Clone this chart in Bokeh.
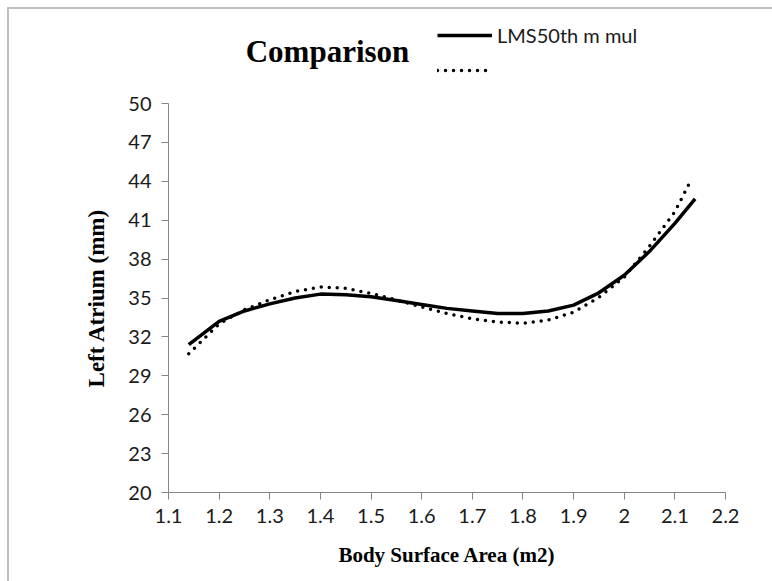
from bokeh.plotting import figure
from bokeh.models import Range1d, FixedTicker, Legend, LegendItem, Label
from bokeh.layouts import column
from bokeh.embed import file_html
from bokeh.resources import INLINE

# ---- data ----
x_solid = [1.14, 1.20, 1.25, 1.30, 1.35, 1.40, 1.45, 1.50, 1.55, 1.60, 1.65,
           1.70, 1.75, 1.80, 1.85, 1.90, 1.95, 2.00, 2.05, 2.10, 2.14]
y_solid = [31.4, 33.2, 34.0, 34.55, 35.0, 35.3, 35.25, 35.1, 34.8, 34.5, 34.2,
           34.0, 33.8, 33.8, 34.0, 34.45, 35.4, 36.75, 38.6, 40.75, 42.65]

x_dotted = [1.14, 1.20, 1.25, 1.30, 1.35, 1.40, 1.45, 1.50, 1.55, 1.60, 1.65,
            1.70, 1.75, 1.80, 1.85, 1.90, 1.95, 2.00, 2.05, 2.10, 2.13]
y_dotted = [30.7, 33.0, 34.1, 34.86, 35.5, 35.85, 35.75, 35.35, 34.85, 34.3, 33.8,
            33.4, 33.15, 33.05, 33.3, 33.9, 35.05, 36.6, 39.0, 41.65, 43.95]

x_ticks = [1.1, 1.2, 1.3, 1.4, 1.5, 1.6, 1.7, 1.8, 1.9, 2.0, 2.1, 2.2]
x_tick_labels = ["1.1", "1.2", "1.3", "1.4", "1.5", "1.6", "1.7", "1.8", "1.9", "2", "2.1", "2.2"]
y_ticks = [20, 23, 26, 29, 32, 35, 38, 41, 44, 47, 50]

title_text = "Comparison"
legend_label = "LMS50th m mul"
x_title = "Body Surface Area (m2)"
y_title = "Left Atrium (mm)"

AXIS = "#868686"
TICK_FONT = "Lato"
SERIF = "Liberation Serif"
OFF = 9            # offset of the content inside the grey outer border
W = 772 - OFF
HEAD_H = 74
FRAME_L = 168      # page x of the plot frame's left edge
FRAME_R = 725      # page x of the plot frame's right edge
FRAME_W = FRAME_R - FRAME_L

SOLID = dict(line_color="black", line_width=3.5, line_join="round")
DOTTED = dict(line_color="black", line_width=3.5, line_dash="0 8", line_cap="round")

# ---- header (title + legend); its frame is aligned with the main frame ----
hd = figure(width=W, height=HEAD_H, x_range=Range1d(0, FRAME_W), y_range=Range1d(HEAD_H, 0),
            output_backend="svg", toolbar_location=None,
            min_border_left=FRAME_L - OFF, min_border_right=W - (FRAME_R - OFF),
            min_border_top=0, min_border_bottom=0)
hd.axis.visible = False
hd.grid.visible = False
hd.outline_line_color = None
hd.background_fill_color = "white"
hd.border_fill_color = "white"

d1 = hd.line(x_solid, y_solid, visible=False, **SOLID)
d2 = hd.line(x_dotted, y_dotted, visible=False, **DOTTED)
legend = Legend(items=[LegendItem(label=legend_label, renderers=[d1]),
                       LegendItem(label=" ", renderers=[d2])],
                location=(437 - FRAME_L, HEAD_H - (80 - OFF)), orientation="vertical",
                glyph_width=55, glyph_height=20, label_height=20, spacing=13,
                padding=0, margin=0, label_standoff=5,
                label_text_font=TICK_FONT, label_text_font_size="20px",
                label_text_color="#1a1a1a",
                border_line_alpha=0, background_fill_alpha=0)
hd.add_layout(legend, "center")
hd.add_layout(Label(x=327 - FRAME_L, y=51 - OFF, text=title_text,
                    text_font=SERIF, text_font_style="bold", text_font_size="31px",
                    text_align="center", text_baseline="middle", text_color="black"))

# ---- main chart ----
main_top = OFF + HEAD_H
p = figure(width=W, height=581 - main_top, x_range=Range1d(1.1, 2.2), y_range=Range1d(20, 50),
           output_backend="svg", toolbar_location=None,
           min_border_left=FRAME_L - OFF, min_border_right=W - (FRAME_R - OFF),
           min_border_top=103 - main_top, min_border_bottom=89)
p.outline_line_color = None
p.xgrid.visible = False
p.ygrid.visible = False
p.background_fill_color = "white"
p.border_fill_color = "white"

for ax in (p.xaxis[0], p.yaxis[0]):
    ax.axis_line_color = AXIS
    ax.axis_line_width = 1
    ax.major_tick_line_color = AXIS
    ax.major_tick_in = 0
    ax.major_tick_out = 7
    ax.minor_tick_line_color = None
    ax.major_label_text_font = TICK_FONT
    ax.major_label_text_font_size = "20px"
    ax.major_label_text_color = "#1a1a1a"
    ax.axis_label_text_font = SERIF
    ax.axis_label_text_font_style = "bold"
    ax.axis_label_text_color = "black"

p.xaxis.ticker = FixedTicker(ticks=x_ticks)
p.xaxis.major_label_overrides = {t: s for t, s in zip(x_ticks, x_tick_labels)}
p.yaxis.ticker = FixedTicker(ticks=y_ticks)
p.xaxis.major_label_standoff = 9
p.yaxis.major_label_standoff = 10
p.xaxis.axis_label = x_title
p.yaxis.axis_label = y_title
p.xaxis.axis_label_text_font_size = "21px"
p.yaxis.axis_label_text_font_size = "23px"
p.xaxis.axis_label_standoff = 17
p.yaxis.axis_label_standoff = 16

p.line(x_solid, y_solid, **SOLID)
p.line(x_dotted, y_dotted, **DOTTED)

layout = column(hd, p, spacing=0, margin=(7, 0, 0, 7),
                styles={"border-left": "2px solid #BFBFBF", "border-top": "2px solid #BFBFBF",
                        "background-color": "white"})

open("out.html", "w").write(file_html(layout, INLINE))
